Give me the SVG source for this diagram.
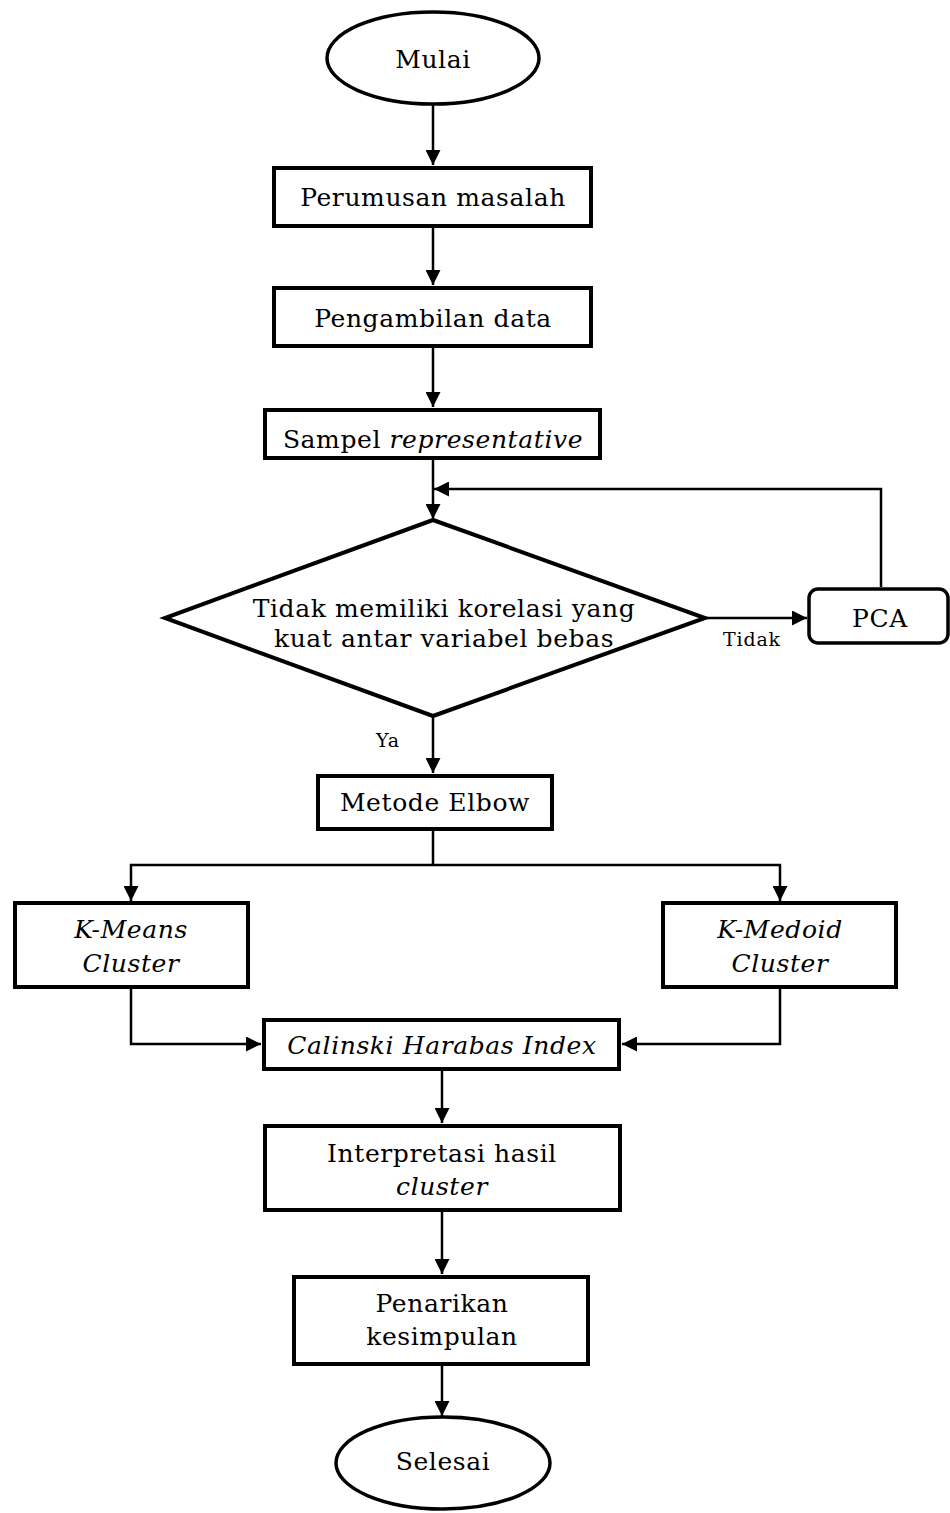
<svg xmlns="http://www.w3.org/2000/svg" width="950" height="1513" viewBox="0 0 950 1513">
  <style>
    .box { fill: #fff; stroke: #000; stroke-width: 4; }
    .term { fill: #fff; stroke: #000; stroke-width: 3.5; }
    .conn { fill: none; stroke: #000; stroke-width: 2.5; }
    .arrow { marker-end: url(#head); }
    text { font-family: "DejaVu Serif", "Liberation Serif", serif; font-size: 25px; letter-spacing: 0.6px; fill: #000; text-anchor: middle; }
    .it { font-style: italic; }
    .lbl { font-size: 19px; letter-spacing: 0.8px; }
  </style>
  <defs>
    <marker id="head" markerUnits="userSpaceOnUse" markerWidth="15" markerHeight="15" refX="15" refY="7.5" orient="auto">
      <path d="M0,0 L15,7.5 L0,15 z" fill="#000"/>
    </marker>
  </defs>

  <rect width="950" height="1513" fill="#fff"/>

  <!-- connectors -->
  <g id="connectors">
    <path class="conn arrow" d="M433,105 V165"/>
    <path class="conn arrow" d="M433,228 V285"/>
    <path class="conn arrow" d="M433,348 V407"/>
    <path class="conn arrow" d="M433,460 V519"/>
    <path class="conn arrow" d="M705,618 H807"/>
    <path class="conn arrow" d="M881,587 V489 H434"/>
    <path class="conn arrow" d="M433,716 V773"/>
    <path class="conn" d="M433,830 V865"/>
    <path class="conn arrow" d="M433,865 H131 V901"/>
    <path class="conn arrow" d="M433,865 H780 V901"/>
    <path class="conn arrow" d="M131,989 V1044 H261"/>
    <path class="conn arrow" d="M780,989 V1044 H622"/>
    <path class="conn arrow" d="M442,1071 V1123"/>
    <path class="conn arrow" d="M442,1212 V1274"/>
    <path class="conn arrow" d="M442,1366 V1416"/>
    <text class="lbl" x="752" y="646">Tidak</text>
    <text class="lbl" x="388" y="747">Ya</text>
  </g>

  <g id="mulai">
    <ellipse class="term" cx="433" cy="58" rx="106" ry="46"/>
    <text x="433" y="68">Mulai</text>
  </g>

  <g id="perumusan">
    <rect class="box" x="274" y="168" width="317" height="58"/>
    <text x="433" y="206">Perumusan masalah</text>
  </g>

  <g id="pengambilan">
    <rect class="box" x="274" y="288" width="317" height="58"/>
    <text x="433" y="327">Pengambilan data</text>
  </g>

  <g id="sampel">
    <rect class="box" x="265" y="410" width="335" height="48"/>
    <text x="433" y="448">Sampel <tspan class="it">representative</tspan></text>
  </g>

  <g id="korelasi">
    <polygon class="box" points="433,520 705,618 433,716 165,618"/>
    <text x="444" y="617">Tidak memiliki korelasi yang</text>
    <text x="444" y="647">kuat antar variabel bebas</text>
  </g>

  <g id="pca">
    <rect class="term" x="809" y="589" width="139" height="54" rx="9" ry="9"/>
    <text x="880" y="627">PCA</text>
  </g>

  <g id="elbow">
    <rect class="box" x="318" y="776" width="234" height="53"/>
    <text x="435" y="811">Metode Elbow</text>
  </g>

  <g id="kmeans">
    <rect class="box" x="15" y="903" width="233" height="84"/>
    <text class="it" x="131" y="938">K-Means</text>
    <text class="it" x="131" y="972">Cluster</text>
  </g>

  <g id="kmedoid">
    <rect class="box" x="663" y="903" width="233" height="84"/>
    <text class="it" x="780" y="938">K-Medoid</text>
    <text class="it" x="780" y="972">Cluster</text>
  </g>

  <g id="calinski">
    <rect class="box" x="264" y="1020" width="355" height="49"/>
    <text class="it" x="442" y="1054">Calinski Harabas Index</text>
  </g>

  <g id="interpretasi">
    <rect class="box" x="265" y="1126" width="355" height="84"/>
    <text x="442" y="1162">Interpretasi hasil</text>
    <text class="it" x="442" y="1195">cluster</text>
  </g>

  <g id="penarikan">
    <rect class="box" x="294" y="1277" width="294" height="87"/>
    <text x="442" y="1312">Penarikan</text>
    <text x="442" y="1345">kesimpulan</text>
  </g>

  <g id="selesai">
    <ellipse class="term" cx="443" cy="1463" rx="107" ry="46"/>
    <text x="443" y="1470">Selesai</text>
  </g>
</svg>
